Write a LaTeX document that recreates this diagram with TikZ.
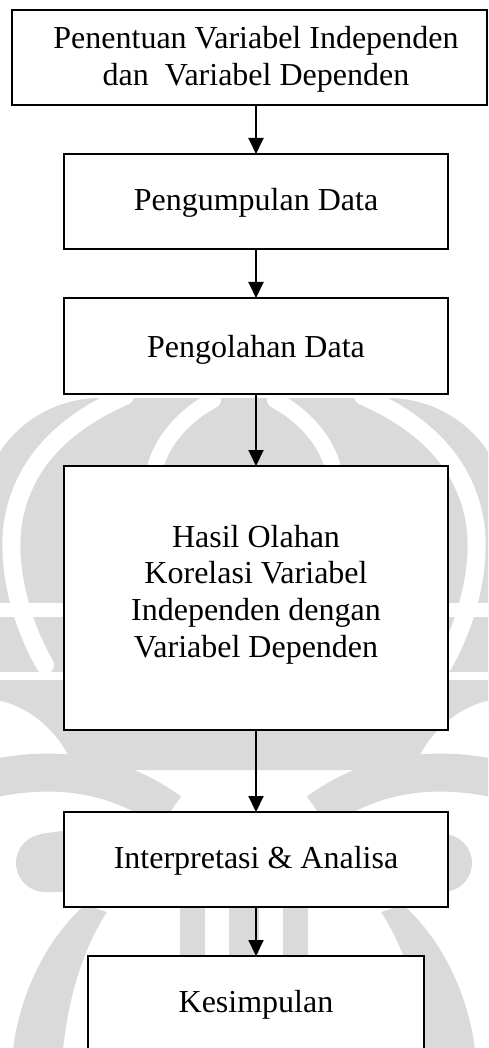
\documentclass[tikz,border=0pt]{standalone}
\usepackage{fontspec}
\setmainfont{Liberation Serif}
\usetikzlibrary{arrows.meta}
\definecolor{wm}{HTML}{DADADA}
\tikzset{
  box/.style={draw=black, line width=2pt, rectangle, inner sep=0pt, outer sep=0pt, fill=white},
  txt/.style={anchor=base, inner sep=0pt, outer sep=0pt, font=\fontsize{32pt}{36.8pt}\selectfont},
  arr/.style={line width=2pt, -{Triangle[length=16pt,width=15pt]}},
  wmgap/.style={draw=white, line cap=round}
}
\begin{document}
\begin{tikzpicture}[x=1pt,y=-1pt]
\useasboundingbox (0,0) rectangle (488,1048);
% faint watermark (background)
\begin{scope}
  \clip (0,0) rectangle (488,1048);
  \fill[wm, rounded corners=120pt] (-20,398) rectangle (508,770);
  \foreach \s/\o in {1/0,-1/488}{
    \begin{scope}[shift={(\o,0)}, xscale=\s]
      \draw[wmgap, line width=18pt] (125,396) .. controls (70,420) and (20,460) .. (12,530) .. controls (8,580) and (25,630) .. (45,665);
      \draw[wmgap, line width=16pt] (213,400) .. controls (185,415) and (162,440) .. (155,468);
      \draw[white, line width=14pt] (-5,610) -- (70,610);
      \draw[white, line width=8pt] (-5,676) -- (70,676);
      \fill[white] (-5,700) .. controls (30,705) and (60,735) .. (70,760) -- (-5,760) -- cycle;
      \draw[wm, line width=38pt] (-5,778) .. controls (60,765) and (120,775) .. (170,812);
      \fill[wm] (45,863) circle (29pt);
      \fill[wm] (40,834) -- (140,820) -- (140,892) -- (45,892) -- cycle;
      \fill[wm] (13,1050) .. controls (20,990) and (50,935) .. (85,905) -- (107,912) .. controls (82,950) and (68,1000) .. (63,1050) -- cycle;
      \fill[wm] (180,900) rectangle (205,960);
      \fill[wm] (229,900) rectangle (244,960);
    \end{scope}
  }
\end{scope}
% boxes
\node[box, minimum width=475pt, minimum height=95pt] (b1) at (249.5,57.5) {};
\node[box, minimum width=384pt, minimum height=95pt] (b2) at (256,201.5) {};
\node[box, minimum width=384pt, minimum height=96pt] (b3) at (256,346) {};
\node[box, minimum width=384pt, minimum height=264pt] (b4) at (256,598) {};
\node[box, minimum width=384pt, minimum height=95pt] (b5) at (256,859.5) {};
\node[box, minimum width=336pt, minimum height=150pt, anchor=north] (b6) at (256,956) {};
% texts
\node[txt] (t1a) at (256,49) {Penentuan Variabel Independen};
\node[txt] (t1b) at (256,86) {dan\ \ Variabel Dependen};
\node[txt] (t2) at (256,211) {Pengumpulan Data};
\node[txt] (t3) at (256,357) {Pengolahan Data};
\node[txt] (t4a) at (256,547) {Hasil Olahan};
\node[txt] (t4b) at (256,583.8) {Korelasi Variabel};
\node[txt] (t4c) at (256,620.6) {Independen dengan};
\node[txt] (t4d) at (256,657.4) {Variabel Dependen};
\node[txt] (t5) at (256,868) {Interpretasi \& Analisa};
\node[txt] (t6) at (256,1012) {Kesimpulan};
% connectors
\draw[arr] (b1.south -| b2.north) -- (b2.north);
\draw[arr] (b2.south) -- (b3.north);
\draw[arr] (b3.south) -- (b4.north);
\draw[arr] (b4.south) -- (b5.north);
\draw[arr] (b5.south) -- (b6.north);
\end{tikzpicture}
\end{document}
